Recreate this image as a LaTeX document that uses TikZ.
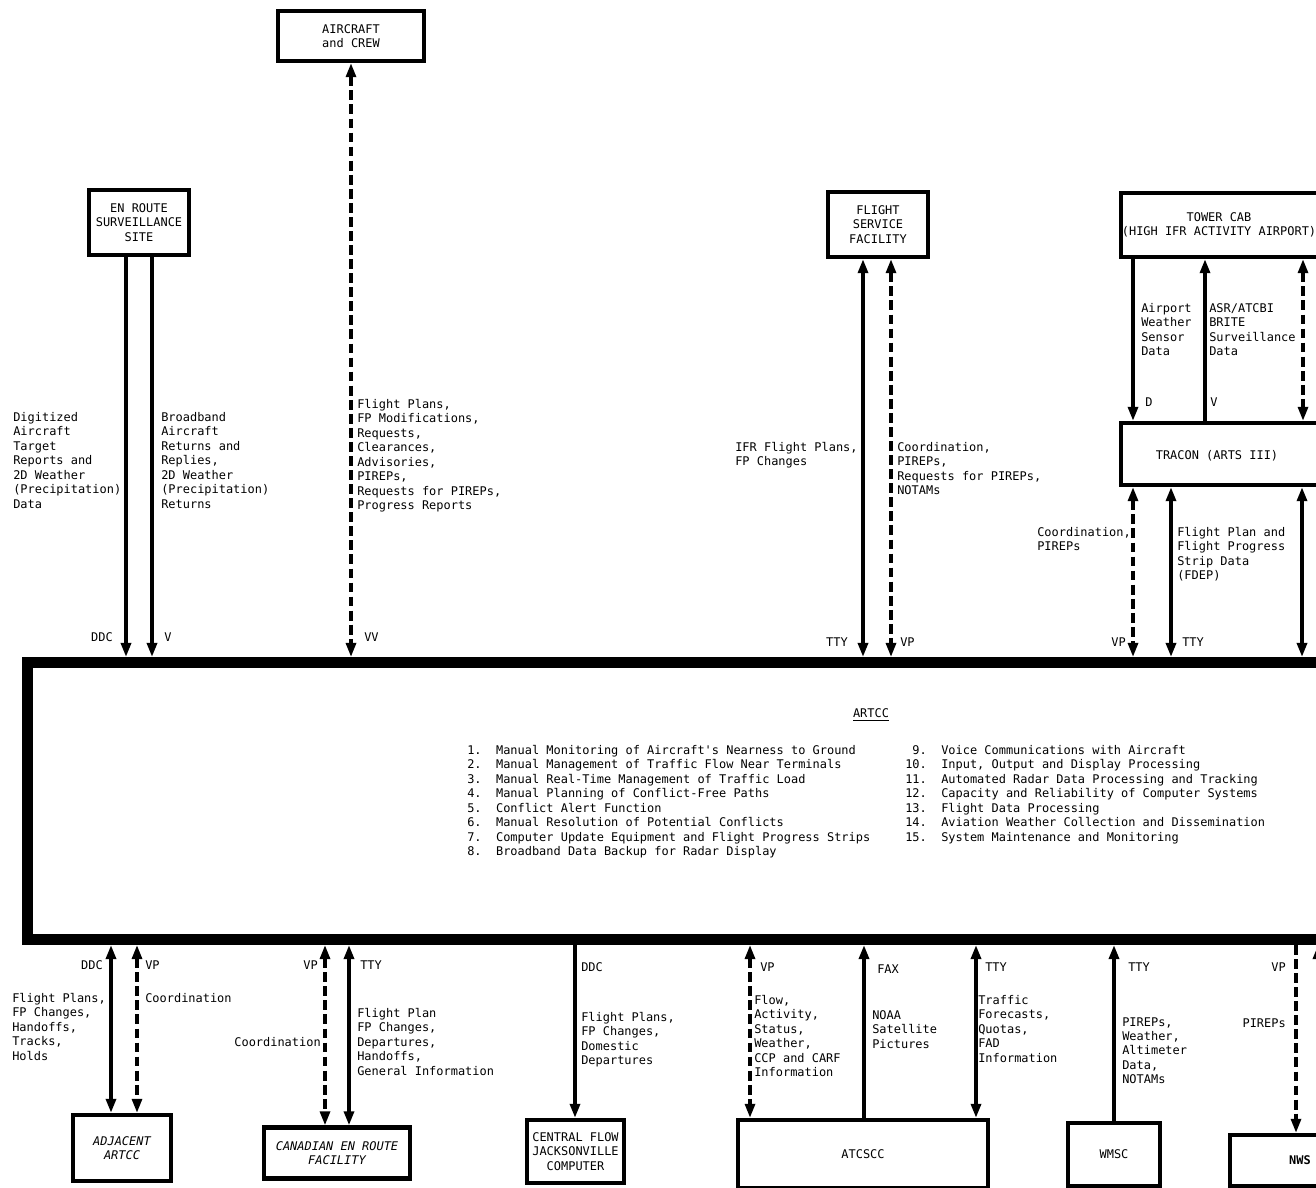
\documentclass[tikz,border=0pt]{standalone}
\usepackage{fontspec}
\usetikzlibrary{arrows.meta}
\newfontfamily\dvmono{DejaVu Sans Mono}
\newcommand\diagfont{\dvmono\fontsize{8.5pt}{10.3pt}\selectfont}
\begin{document}
\begin{tikzpicture}[x=0.025cm,y=-0.025cm,
  >={Triangle[length=10pt,width=7pt]},
  box/.style={draw,line width=3pt,inner sep=0pt,align=center,font=\diagfont},
  wh/.style 2 args={minimum width=#1*0.025cm,minimum height=#2*0.025cm},
  big/.style={draw,line width=7.8pt,inner sep=0pt},
  sarr/.style={line width=2.6pt},
  darr/.style={line width=2.4pt,dash pattern=on 7pt off 3pt},
  lbl/.style={font=\diagfont,inner sep=0pt,align=left,anchor=north west},
  tag/.style={font=\diagfont,inner sep=0pt}]
\useasboundingbox (0,0) rectangle (1316,1188);
\clip (0,0) rectangle (1316,1188);

% ---------- boxes ----------
\node[box,wh={146}{50}] (ac) at (351,36) {AIRCRAFT\\and CREW};
\node[box,wh={100}{65}] (enr) at (139,222.5) {EN ROUTE\\SURVEILLANCE\\SITE};
\node[box,wh={100}{65}] (fsf) at (878,224.5) {FLIGHT\\SERVICE\\FACILITY};
\node[box,wh={230}{64}] (tower) at (1236,225) {};
\node[tag,align=center] (towert) at (1219,225) {TOWER CAB\\(HIGH IFR ACTIVITY AIRPORT)};
\node[box,wh={230}{62}] (tracon) at (1236,454) {};
\node[tag] (tracont) at (1217,456) {TRACON (ARTS III)};

\node[big,wh={1347.5}{277}] (artcc) at (701.25,801) {};
\node[tag] (artcct) at (871,715) {\underline{ARTCC}};
\node[lbl] (list1) at (467,745) {1.~~Manual Monitoring of Aircraft's Nearness to Ground\\
2.~~Manual Management of Traffic Flow Near Terminals\\
3.~~Manual Real-Time Management of Traffic Load\\
4.~~Manual Planning of Conflict-Free Paths\\
5.~~Conflict Alert Function\\
6.~~Manual Resolution of Potential Conflicts\\
7.~~Computer Update Equipment and Flight Progress Strips\\
8.~~Broadband Data Backup for Radar Display};
\node[lbl] (list2) at (905,745) {~9.~~Voice Communications with Aircraft\\
10.~~Input, Output and Display Processing\\
11.~~Automated Radar Data Processing and Tracking\\
12.~~Capacity and Reliability of Computer Systems\\
13.~~Flight Data Processing\\
14.~~Aviation Weather Collection and Dissemination\\
15.~~System Maintenance and Monitoring};

\node[box,wh={98}{66},font=\diagfont\itshape] (adj) at (122,1148) {ADJACENT\\ARTCC};
\node[box,wh={146}{51},font=\diagfont\itshape] (can) at (337,1153) {CANADIAN EN ROUTE\\FACILITY};
\node[box,wh={97}{63}] (cfc) at (575.5,1151.5) {CENTRAL FLOW\\JACKSONVILLE\\COMPUTER};
\node[box,wh={250}{68}] (atc) at (863,1154) {ATCSCC};
\node[box,wh={92}{63}] (wmsc) at (1114,1154.5) {WMSC};
\node[box,wh={140}{51},font=\diagfont\bfseries] (nws) at (1300,1160.5) {NWS};

% ---------- top connectors ----------
\draw[darr,<->] (ac.south) -- (artcc.north -| ac.south);
\draw[sarr,->] (enr.south -| 126,0) -- (artcc.north -| 126,0);
\draw[sarr,->] (enr.south -| 152,0) -- (artcc.north -| 152,0);
\draw[sarr,<->] (fsf.south -| 863,0) -- (artcc.north -| 863,0);
\draw[darr,<->] (fsf.south -| 891,0) -- (artcc.north -| 891,0);
\draw[sarr,->] (tower.south -| 1133,0) -- (tracon.north -| 1133,0);
\draw[sarr,<-] (tower.south -| 1205,0) -- (tracon.north -| 1205,0);
\draw[darr,<->] (tower.south -| 1303,0) -- (tracon.north -| 1303,0);
\draw[darr,<->] (tracon.south -| 1133,0) -- (artcc.north -| 1133,0);
\draw[sarr,<->] (tracon.south -| 1171,0) -- (artcc.north -| 1171,0);
\draw[sarr,<->] (tracon.south -| 1302,0) -- (artcc.north -| 1302,0);

% ---------- top labels ----------
\node[tag,anchor=east] (lddc1) at (113,637) {DDC};
\node[tag,anchor=west] (lv1) at (164,637) {V};
\node[tag,anchor=west] (lvv) at (364,637) {VV};
\node[lbl] (tdig) at (13,412) {Digitized\\Aircraft\\Target\\Reports and\\2D Weather\\(Precipitation)\\Data};
\node[lbl] (tbb) at (161,412) {Broadband\\Aircraft\\Returns and\\Replies,\\2D Weather\\(Precipitation)\\Returns};
\node[lbl] (tfp) at (357,399) {Flight Plans,\\FP Modifications,\\Requests,\\Clearances,\\Advisories,\\PIREPs,\\Requests for PIREPs,\\Progress Reports};
\node[lbl] (tifr) at (735,442) {IFR Flight Plans,\\FP Changes};
\node[lbl] (tcoord) at (897,442) {Coordination,\\PIREPs,\\Requests for PIREPs,\\NOTAMs};
\node[tag,anchor=east] (ltty1) at (848,642) {TTY};
\node[tag,anchor=west] (lvp1) at (900,642) {VP};
\node[lbl] (taw) at (1141,303) {Airport\\Weather\\Sensor\\Data};
\node[lbl] (tasr) at (1209,303) {ASR/ATCBI\\BRITE\\Surveillance\\Data};
\node[tag,anchor=west] (ld) at (1145,402) {D};
\node[tag,anchor=west] (lv2) at (1210,402) {V};
\node[lbl] (tcp) at (1037,527) {Coordination,\\PIREPs};
\node[lbl] (tfpd) at (1177,527) {Flight Plan and\\Flight Progress\\Strip Data\\(FDEP)};
\node[tag,anchor=east] (lvp2) at (1126,642) {VP};
\node[tag,anchor=west] (ltty2) at (1182,642) {TTY};

% ---------- bottom connectors ----------
\draw[sarr,<->] (artcc.south -| 111,0) -- (adj.north -| 111,0);
\draw[darr,<->] (artcc.south -| 137,0) -- (adj.north -| 137,0);
\draw[darr,<->] (artcc.south -| 325,0) -- (can.north -| 325,0);
\draw[sarr,<->] (artcc.south -| 349,0) -- (can.north -| 349,0);
\draw[sarr,->] (artcc.south -| 575,0) -- (cfc.north -| 575,0);
\draw[darr,<->] (artcc.south -| 750,0) -- (atc.north -| 750,0);
\draw[sarr,<-] (artcc.south -| 864,0) -- (atc.north -| 864,0);
\draw[sarr,<->] (artcc.south -| 976,0) -- (atc.north -| 976,0);
\draw[sarr,<-] (artcc.south -| 1114,0) -- (wmsc.north -| 1114,0);
\draw[darr,->] (artcc.south -| 1296,0) -- (nws.north -| 1296,0);
\draw[sarr,<-] (artcc.south -| 1318,0) -- (nws.north -| 1318,0);

% ---------- bottom labels ----------
\node[tag,anchor=east] (lddc2) at (103,965) {DDC};
\node[tag,anchor=west] (lvp3) at (145,965) {VP};
\node[lbl] (tadj) at (12,993) {Flight Plans,\\FP Changes,\\Handoffs,\\Tracks,\\Holds};
\node[lbl] (tcoord2) at (145,993) {Coordination};
\node[tag,anchor=east] (lvp4) at (318,965) {VP};
\node[tag,anchor=west] (ltty3) at (360,965) {TTY};
\node[tag,anchor=east] (tcoord3) at (321,1042) {Coordination};
\node[lbl] (tcan) at (357,1008) {Flight Plan\\FP Changes,\\Departures,\\Handoffs,\\General Information};
\node[tag,anchor=west] (lddc3) at (581,967) {DDC};
\node[lbl] (tcfc) at (581,1012) {Flight Plans,\\FP Changes,\\Domestic\\Departures};
\node[tag,anchor=west] (lvp5) at (760,967) {VP};
\node[lbl] (tflow) at (754,995) {Flow,\\Activity,\\Status,\\Weather,\\CCP and CARF\\Information};
\node[tag,anchor=west] (lfax) at (877,969) {FAX};
\node[lbl] (tnoaa) at (872,1010) {NOAA\\Satellite\\Pictures};
\node[tag,anchor=west] (ltty4) at (985,967) {TTY};
\node[lbl] (ttraf) at (978,995) {Traffic\\Forecasts,\\Quotas,\\FAD\\Information};
\node[tag,anchor=west] (ltty5) at (1128,967) {TTY};
\node[lbl] (twmsc) at (1122,1017) {PIREPs,\\Weather,\\Altimeter\\Data,\\NOTAMs};
\node[tag,anchor=east] (lvp6) at (1286,967) {VP};
\node[tag,anchor=east] (tpireps) at (1286,1023) {PIREPs};
\end{tikzpicture}
\end{document}
